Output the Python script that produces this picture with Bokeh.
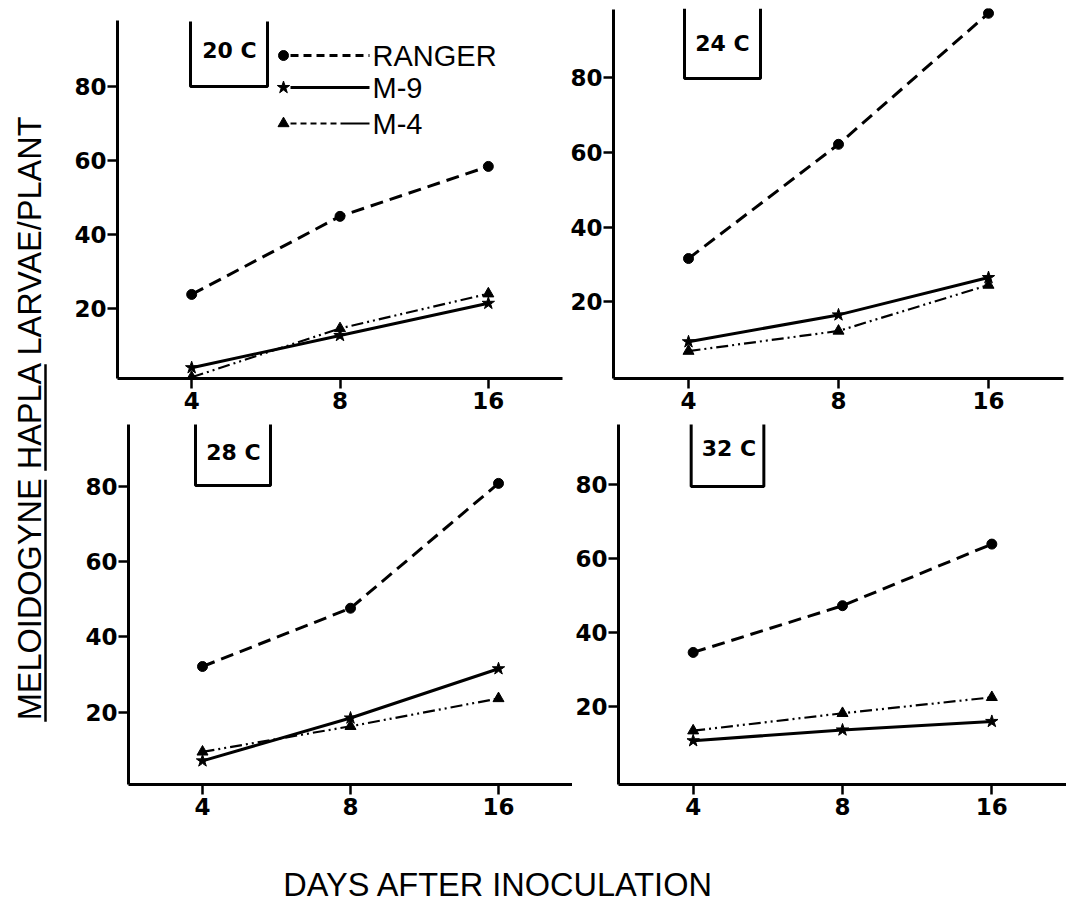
import math
from bokeh.plotting import figure
from bokeh.models import FactorRange, Range1d, FixedTicker
from bokeh.layouts import row, column
from bokeh.embed import file_html
from bokeh.resources import INLINE
from bokeh.core.properties import value

# ---------------- data ----------------
days = ["4", "8", "16"]
y_ticks = [20, 40, 60, 80]
series_names = ["RANGER", "M-9", "M-4"]
panel_labels = ["20 C", "24 C", "28 C", "32 C"]

ranger_20 = [23.8, 44.9, 58.4]
m9_20 = [4.0, 12.7, 21.4]
m4_20 = [1.4, 14.6, 24.0]

ranger_24 = [31.6, 62.2, 97.3]
m9_24 = [9.3, 16.5, 26.5]
m4_24 = [6.8, 12.2, 24.5]

ranger_28 = [32.1, 47.6, 80.8]
m9_28 = [7.0, 18.4, 31.5]
m4_28 = [9.4, 16.2, 23.6]

ranger_32 = [34.6, 47.2, 63.8]
m9_32 = [10.8, 13.7, 16.0]
m4_32 = [13.5, 18.2, 22.5]

x_title = "DAYS AFTER INOCULATION"
y_title_parts = ["MELOIDOGYNE", "HAPLA", "LARVAE/PLANT"]

# ---------------- styles ----------------
STYLE = {
    "RANGER": dict(line_width=3, line_dash="13 7", marker="circle", size=10),
    "M-9": dict(line_width=3, line_dash="solid", marker="star", size=13),
    "M-4": dict(line_width=2.2, line_dash="12 4 2 4 2 4", marker="triangle", size=11),
}
TICK_FONT_NAME = "DejaVu Sans"
TICK_FONT = value(TICK_FONT_NAME)
TITLE_FONT = value("Liberation Sans")
TITLE_SIZE = 32.5

# canvas geometry (page has no margin): figure left/top, width, height,
# frame left/right/top/bottom, pixel row of y=0, pixels per y unit, y-axis top row
ROW1_TOP, ROW1_FT, ROW1_FB, ROW1_H = 0, 8, 378, 424
ROW2_TOP, ROW2_FT, ROW2_FB, ROW2_H = 424, 424, 784, 404
PANELS = [
    dict(fx=68, w=498, fl=117, fr=562, top=ROW1_TOP, ft=ROW1_FT, fb=ROW1_FB, h=ROW1_H,
         zero=382.0, ppu=3.70, axis_top=20),
    dict(fx=566, w=500, fl=613, fr=1063, top=ROW1_TOP, ft=ROW1_FT, fb=ROW1_FB, h=ROW1_H,
         zero=376.0, ppu=3.733, axis_top=9),
    dict(fx=68, w=504, fl=128, fr=572, top=ROW2_TOP, ft=ROW2_FT, fb=ROW2_FB, h=ROW2_H,
         zero=786.7, ppu=3.76, axis_top=424),
    dict(fx=572, w=494, fl=616, fr=1066, top=ROW2_TOP, ft=ROW2_FT, fb=ROW2_FB, h=ROW2_H,
         zero=780.3, ppu=3.71, axis_top=424),
]
BOXES = [
    (190, 267, 21, 86, 229, 50),
    (684, 760, 8, 78, 722, 43),
    (195, 270, 423, 485, 233, 452),
    (689, 762, 419, 486, 727, 448),
]
LEGEND_ROWS = [55, 87, 123]


def to_data(g, X, Y):
    unit = (g["fr"] - g["fl"]) / len(days)
    return (X - g["fl"]) / unit, (g["zero"] - Y) / g["ppu"]


def make_panel(i, ranger, m9, m4, legend=False):
    g = PANELS[i]
    y0 = (g["zero"] - g["fb"]) / g["ppu"]
    y1 = (g["zero"] - g["ft"]) / g["ppu"]
    ytop = (g["zero"] - g["axis_top"]) / g["ppu"]
    p = figure(
        width=g["w"], height=g["h"],
        x_range=FactorRange(factors=days, range_padding=0),
        y_range=Range1d(y0, y1),
        output_backend="svg", toolbar_location=None,
        min_border_left=g["fl"] - g["fx"],
        min_border_right=g["fx"] + g["w"] - g["fr"],
        min_border_top=g["ft"] - g["top"],
        min_border_bottom=g["top"] + g["h"] - g["fb"],
    )
    p.outline_line_color = None
    p.grid.visible = False
    p.background_fill_color = "white"
    p.border_fill_color = "white"
    for ax in (p.xaxis[0], p.yaxis[0]):
        ax.axis_line_width = 3
        ax.axis_line_color = "black"
        ax.major_tick_line_width = 2.5
        ax.major_tick_line_color = "black"
        ax.major_tick_in = 0
        ax.minor_tick_out = 0
        ax.minor_tick_in = 0
        ax.major_label_text_font = TICK_FONT_NAME
        ax.major_label_text_font_style = "bold"
        ax.major_label_text_font_size = "23px"
        ax.major_label_text_color = "black"
    p.xaxis.major_tick_out = 10
    p.xaxis.major_label_standoff = 3
    p.yaxis.major_tick_out = 10
    p.yaxis.major_label_standoff = 1
    p.yaxis.ticker = FixedTicker(ticks=y_ticks)
    p.yaxis.bounds = (y0, ytop)

    for name, vals in zip(series_names, [ranger, m9, m4]):
        s = STYLE[name]
        p.line(days, vals, line_color="black", line_width=s["line_width"], line_dash=s["line_dash"])
        p.scatter(days, vals, marker=s["marker"], size=s["size"], fill_color="black", line_color="black")

    # panel label bracket
    l, r, t, b, tx, ty = BOXES[i]
    bx0, by0 = to_data(g, l, t)
    bx1, by1 = to_data(g, r, b)
    p.line([bx0, bx0, bx1, bx1], [by0, by1, by1, by0], line_color="black", line_width=3)
    cx, cy = to_data(g, tx, ty)
    p.text([cx], [cy], text=[panel_labels[i]], text_align="center", text_baseline="middle",
           text_font=TICK_FONT, text_font_style="bold", text_font_size="22px", text_color="black")

    if legend:
        for name, Y in zip(series_names, LEGEND_ROWS):
            s = STYLE[name]
            mx, my = to_data(g, 283, Y)
            lx0, _ = to_data(g, 290, Y)
            lx1, _ = to_data(g, 369, Y)
            tx_, _ = to_data(g, 372, Y)
            dash = "8 5" if name == "RANGER" else ("6 4 6 4 6 4 6 4 6 4 30 0" if name == "M-4" else "solid")
            p.line([lx0, lx1], [my, my], line_color="black", line_width=s["line_width"], line_dash=dash)
            p.scatter([mx], [my], marker=s["marker"], size=s["size"], fill_color="black", line_color="black")
            p.text([tx_], [my], text=[name], text_align="left", text_baseline="middle",
                   text_font=TITLE_FONT, text_font_size="29px", text_color="black")
    return p


p1 = make_panel(0, ranger_20, m9_20, m4_20, legend=True)
p2 = make_panel(1, ranger_24, m9_24, m4_24)
p3 = make_panel(2, ranger_28, m9_28, m4_28)
p4 = make_panel(3, ranger_32, m9_32, m4_32)

TOTAL_H = 905

# ---------------- y title ----------------
YW, YH = 68, TOTAL_H
yfig = figure(width=YW, height=YH, x_range=Range1d(0, YW), y_range=Range1d(YH, 0),
              output_backend="svg", toolbar_location=None, min_border=0,
              x_axis_location=None, y_axis_location=None)
yfig.outline_line_color = None
yfig.grid.visible = False

# Arial / Liberation Sans advance widths (em)
W = {"M": .833, "E": .667, "L": .556, "O": .778, "I": .278, "D": .722, "G": .778, "Y": .667,
     "N": .722, "H": .722, "A": .667, "P": .667, "R": .722, "V": .667, "T": .611, "/": .278, " ": .278}
def tw(s):
    return sum(W[c] for c in s) * TITLE_SIZE

full = " ".join(y_title_parts)
Y_CENTER = 417      # canvas row of the title's middle
X_CENTER = 29       # canvas column of the letters' middle
UNDERLINE_X = 45
yfig.text([X_CENTER], [Y_CENTER], text=[full], angle=math.pi / 2, text_align="center",
          text_baseline="middle", text_font=TITLE_FONT, text_font_size=f"{TITLE_SIZE}px",
          text_color="black")
pos = Y_CENTER + tw(full) / 2     # bottom end (canvas y grows downward here)
for k, part in enumerate(y_title_parts):
    wpart = tw(part)
    if k < 2:
        yfig.line([UNDERLINE_X, UNDERLINE_X], [pos, pos - wpart], line_color="black", line_width=2.5)
    pos -= wpart + tw(" ")

# ---------------- x title ----------------
XW, XH = 998, TOTAL_H - 828
xfig = figure(width=XW, height=XH, x_range=Range1d(68, 68 + XW), y_range=Range1d(TOTAL_H, 828),
              output_backend="svg", toolbar_location=None, min_border=0,
              x_axis_location=None, y_axis_location=None)
xfig.outline_line_color = None
xfig.grid.visible = False
xfig.text([498], [884], text=[x_title], text_align="center", text_baseline="middle",
          text_font=TITLE_FONT, text_font_size=f"{TITLE_SIZE}px", text_color="black")

layout = row(yfig, column(row(p1, p2), row(p3, p4), xfig))
open("out.html", "w").write(file_html(layout, INLINE))
